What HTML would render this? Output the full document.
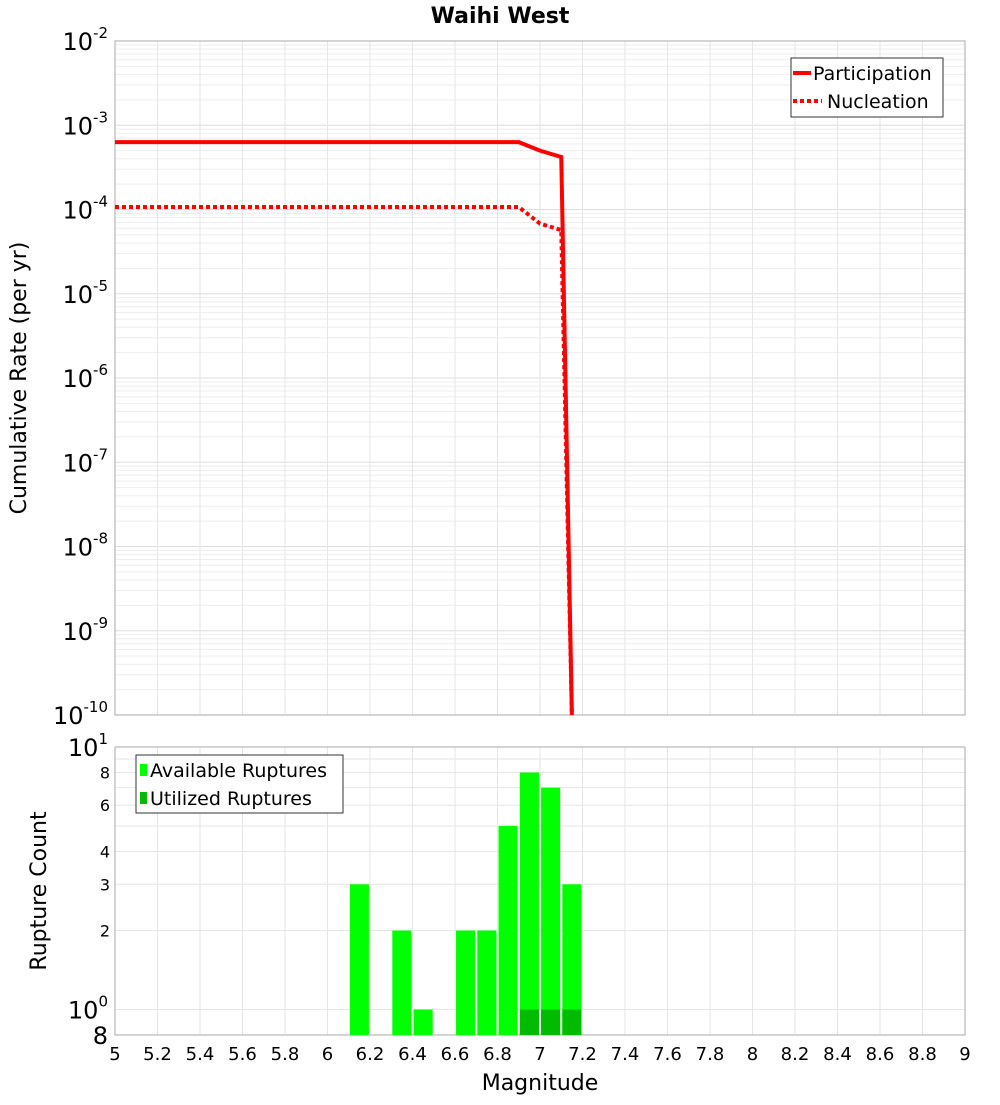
<!DOCTYPE html>
<html><head><meta charset="utf-8"><style>
body{margin:0;background:#fff;font-family:"Liberation Sans","DejaVu Sans",sans-serif}
</style></head><body>
<svg id="c" width="1000" height="1100" xmlns="http://www.w3.org/2000/svg" font-family="DejaVu Sans, Liberation Sans, sans-serif">
<text x="500" y="23" text-anchor="middle" font-size="22" font-weight="bold">Waihi West</text>
<g id="topPlot"></g>
<g id="botPlot"></g>
<text transform="translate(26,378) rotate(-90)" text-anchor="middle" font-size="22">Cumulative Rate (per yr)</text>
<text transform="translate(46,891) rotate(-90)" text-anchor="middle" font-size="22">Rupture Count</text>
<text x="540" y="1090" text-anchor="middle" font-size="22">Magnitude</text>
</svg>
<script>
const mags=[5,5.1,5.2,5.3,5.4,5.5,5.6,5.7,5.8,5.9,6,6.1,6.2,6.3,6.4,6.5,6.6,6.7,6.8,6.9,7.0,7.1,7.15];
const participation=[6.3e-4,6.3e-4,6.3e-4,6.3e-4,6.3e-4,6.3e-4,6.3e-4,6.3e-4,6.3e-4,6.3e-4,6.3e-4,6.3e-4,6.3e-4,6.3e-4,6.3e-4,6.3e-4,6.3e-4,6.3e-4,6.3e-4,6.3e-4,5.0e-4,4.2e-4,1e-10];
const nucleation=[1.07e-4,1.07e-4,1.07e-4,1.07e-4,1.07e-4,1.07e-4,1.07e-4,1.07e-4,1.07e-4,1.07e-4,1.07e-4,1.07e-4,1.07e-4,1.07e-4,1.07e-4,1.07e-4,1.07e-4,1.07e-4,1.07e-4,1.07e-4,6.8e-5,5.7e-5,1e-10];
const binCenters=[6.15,6.35,6.45,6.65,6.75,6.85,6.95,7.05,7.15];
const available=[3,2,1,2,2,5,8,7,3];
const utilized=[0,0,0,0,0,0,1,1,1];
const xTicks=[5,5.2,5.4,5.6,5.8,6,6.2,6.4,6.6,6.8,7,7.2,7.4,7.6,7.8,8,8.2,8.4,8.6,8.8,9];
const topExps=[-2,-3,-4,-5,-6,-7,-8,-9,-10];

const NS="http://www.w3.org/2000/svg";
function el(p,t,a){const e=document.createElementNS(NS,t);for(const k in a)e.setAttribute(k,a[k]);p.appendChild(e);return e;}
const L=115,R=965,T1=41,B1=715,T2=747,B2=1035;
const xs=m=>L+(m-5)/4*(R-L);
const yT=v=>T1+(-2-Math.log10(v))*(B1-T1)/8;
const yB=v=>T2+(1-Math.log10(v))*(B2-T2)/(1-Math.log10(0.8));
const topG=document.getElementById('topPlot'),botG=document.getElementById('botPlot');

for(let e=-10;e<-2;e++)for(let k=1;k<10;k++){const y=yT(k*Math.pow(10,e));const g=el(topG,'line',{x1:L,x2:R,y1:y,y2:y,stroke:k==1?'#ddd':'#eee','stroke-width':1});

}
xTicks.forEach(m=>{const g=el(topG,'line',{x1:xs(m),x2:xs(m),y1:T1,y2:B1,stroke:'#e6e6e6'});
 
 
 const g2=el(botG,'line',{x1:xs(m),x2:xs(m),y1:T2,y2:B2,stroke:'#e6e6e6'});
 
 });
const fr=el(topG,'rect',{x:L,y:T1,width:R-L,height:B1-T1,fill:'none',stroke:'#aaa'});


topExps.forEach(e=>{const t=el(topG,'text',{x:108,y:yT(Math.pow(10,e))+9,'text-anchor':'end','font-size':24});
 
 
 t.innerHTML='10<tspan dy="-12" font-size="15">'+e+'</tspan>';});
function poly(vals,dash,name){const p=el(topG,'polyline',{points:mags.map((m,i)=>xs(m)+','+yT(vals[i])).join(' '),fill:'none',stroke:'#f00','stroke-width':4,'stroke-dasharray':dash});
 
 }
poly(participation,'none','participation-line');
poly(nucleation,'4 3','nucleation-line');
const lg=el(topG,'g',{});


el(lg,'rect',{x:791,y:58,width:152,height:59,fill:'#fff',stroke:'#333'});
el(lg,'line',{x1:793,x2:811,y1:73,y2:73,stroke:'#f00','stroke-width':4});
el(lg,'line',{x1:793,x2:822,y1:101,y2:101,stroke:'#f00','stroke-width':4,'stroke-dasharray':'4 3'});
let t=el(lg,'text',{x:813,y:80,'font-size':19});t.textContent='Participation';


t=el(lg,'text',{x:827,y:108,'font-size':19});t.textContent='Nucleation';



[1,2,3,4,5,6,7,8,9,10].forEach(v=>{const y=yB(v);const g=el(botG,'line',{x1:L,x2:R,y1:y,y2:y,stroke:'#e6e6e6'});
 
 });
const fr2=el(botG,'rect',{x:L,y:T2,width:R-L,height:B2-T2,fill:'none',stroke:'#aaa'});


binCenters.forEach((c,i)=>{const r=el(botG,'rect',{x:xs(c-0.045),y:yB(available[i]),width:xs(c+0.045)-xs(c-0.045),height:B2-yB(available[i]),fill:'#00ff00'});
 
 
 if(utilized[i]>0){const u=el(botG,'rect',{x:xs(c-0.045),y:yB(utilized[i]),width:xs(c+0.045)-xs(c-0.045),height:B2-yB(utilized[i]),fill:'#00bb00'});
 
 }});
[[10,'10','1'],[1,'10','0'],[0.8,'8',''],[2,'2',''],[3,'3',''],[4,'4',''],[6,'6',''],[8,'8','']].forEach(a=>{const big=a[2]!==''||a[0]==0.8;
 const tt=el(botG,'text',{x:big?108:110,y:yB(a[0])+(big?9:6),'text-anchor':'end','font-size':big?24:16});
 
 
 tt.innerHTML=a[1]+(a[2]?'<tspan dy="-12" font-size="15">'+a[2]+'</tspan>':'');});
xTicks.forEach(m=>{const tt=el(botG,'text',{x:xs(m),y:1060,'text-anchor':'middle','font-size':18});tt.textContent=String(m);
 
 });
const lg2=el(botG,'g',{});


el(lg2,'rect',{x:136,y:755,width:207,height:58,fill:'#fff',stroke:'#333'});
el(lg2,'rect',{x:140,y:764,width:7,height:12,fill:'#00ff00'});
el(lg2,'rect',{x:140,y:792,width:7,height:12,fill:'#00bb00'});
t=el(lg2,'text',{x:150,y:777,'font-size':19});t.textContent='Available Ruptures';


t=el(lg2,'text',{x:150,y:805,'font-size':19});t.textContent='Utilized Ruptures';


</script>
</body></html>
